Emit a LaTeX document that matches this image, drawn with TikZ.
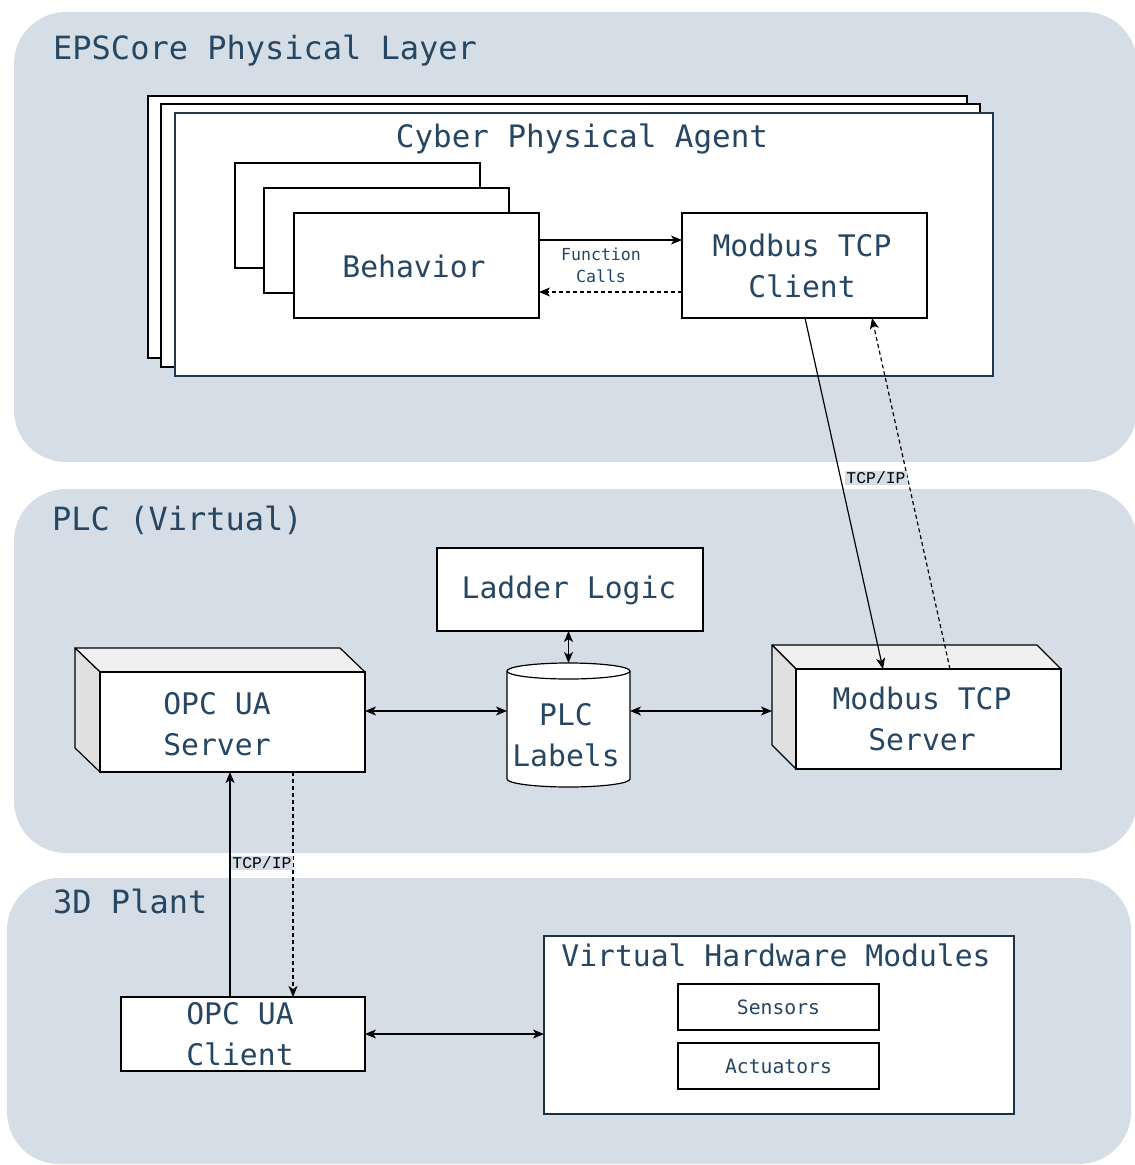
\documentclass[tikz,border=0pt]{standalone}
\usepackage{fontspec}
\setmonofont{DejaVu Sans Mono}
\newfontfamily\netfont{Liberation Mono}
\usetikzlibrary{arrows.meta}
\definecolor{panelfill}{RGB}{213,222,230}
\definecolor{ink}{RGB}{38,70,98}
\definecolor{topface}{RGB}{240,240,240}
\definecolor{sideface}{RGB}{224,224,224}
\newcommand{\fs}[2]{\fontsize{#1}{#2}\selectfont}
\tikzset{
  panel/.style={fill=panelfill, rounded corners=52},
  box/.style={draw=black, fill=white, line width=1.2pt, inner sep=0pt, outer sep=0pt,
    anchor=north west, align=center, text=ink, font=\ttfamily\fs{29.7}{41}},
  ghost/.style={inner sep=0pt, outer sep=0pt, anchor=north west},
  face/.style={draw=black, line width=1.2pt, line join=round},
  label/.style={anchor=center, text=ink, font=\ttfamily\fs{29.7}{41}, align=center, inner sep=0pt},
  title/.style={anchor=base west, text=ink, font=\ttfamily\fs{32}{40}, inner sep=0pt},
  small/.style={text=ink, font=\ttfamily\fs{16.6}{22}, align=center, inner sep=0pt},
  netlabel/.style={text=black, font=\netfont\fs{16.4}{20}, inner sep=1pt},
  tip/.style={},
  conn/.style={line width=1.2pt, -{Stealth[length=11pt,width=9pt,inset=3pt]}},
  biconn/.style={line width=1.2pt, {Stealth[length=11pt,width=9pt,inset=3pt]}-{Stealth[length=11pt,width=9pt,inset=3pt]}},
  dconn/.style={conn, dash pattern=on 4pt off 3pt}
}
\begin{document}
\begin{tikzpicture}[x=1pt,y=-1pt]
\useasboundingbox (0,0) rectangle (1135,1165);
\begin{scope}
\clip (0,0) rectangle (1135,1165);
% layer panels
\fill[panel] (14,12) rectangle (1137,462);
\fill[panel] (14,489) rectangle (1137,853);
\fill[panel] (7,878) rectangle (1131,1164);
\end{scope}
\node[title] (t1) at (53,59) {EPSCore Physical Layer};
\node[title] (t2) at (52,530) {PLC (Virtual)};
\node[title] (t3) at (53,913) {3D Plant};

% stacked cyber physical agents
\node[box, minimum width=819, minimum height=262] (cpa3) at (148,96) {};
\node[box, minimum width=819, minimum height=263] (cpa2) at (161,104) {};
\node[box, draw=ink!80!black, minimum width=818, minimum height=263] (cpa) at (175,113) {};
\node[anchor=base, text=ink, font=\ttfamily\fs{30.9}{40}, inner sep=0pt] (cpat) at (582,147) {Cyber Physical Agent};

% stacked behaviors
\node[box, minimum width=245, minimum height=105] (beh3) at (235,163) {};
\node[box, minimum width=245, minimum height=105] (beh2) at (264,188) {};
\node[box, minimum width=245, minimum height=105] (beh) at (294,213) {};
\node[label] (beht) at (414,266) {Behavior};
\node[box, minimum width=245, minimum height=105] (mbc) at (682,213) {};
\node[label] (mbct) at (802,266) {Modbus TCP\\Client};

\draw[conn] (beh.east |- 0,240) -- (mbc.west |- 0,240);
\draw[dconn] (mbc.west |- 0,292) -- (beh.east |- 0,292);
\node[small] (fc) at (601,265) {Function\\Calls};

% PLC
\node[box, minimum width=266, minimum height=83] (ladder) at (437,548) {};
\node[label] (laddert) at (569,590) {Ladder Logic};

% PLC labels cylinder
\node[ghost, minimum width=123, minimum height=124] (cyl) at (507,663) {};
\draw[face, fill=white] (630,671) arc[start angle=360, end angle=180, x radius=61.5, y radius=8]
  -- (507,779) arc[start angle=180, end angle=0, x radius=61.5, y radius=8] -- cycle;
\draw[face] (507,671) arc[start angle=180, end angle=0, x radius=61.5, y radius=8];
\node[label] (cylt) at (566,735) {PLC\\Labels};

% OPC UA server block
\draw[face, fill=topface] (75,648) -- (340,648) -- (365,672) -- (100,672) -- cycle;
\draw[face, fill=sideface] (75,648) -- (100,672) -- (100,772) -- (75,748) -- cycle;
\node[box, minimum width=265, minimum height=100] (osrv) at (100,672) {};
\node[label] (osrvt) at (217,724) {OPC UA\\Server};

% Modbus TCP server block
\coordinate (msb) at (772,711);
\draw[face, fill=topface] (772,645) -- (1037,645) -- (1061,669) -- (796,669) -- cycle;
\draw[face, fill=sideface] (772,645) -- (796,669) -- (796,769) -- (772,745) -- cycle;
\node[box, minimum width=265, minimum height=100] (msrv) at (796,669) {};
\node[label] (msrvt) at (922,719) {Modbus TCP\\Server};

\draw[biconn] (ladder.south -| cyl.north) -- (cyl.north);
\draw[biconn] (osrv.east |- 0,711) -- (cyl.west |- 0,711);
\draw[biconn] (cyl.east |- 0,711) -- (msb);

% network links to the Modbus server
\draw[conn] (mbc.south -| 805,0) -- (msrv.north -| 883,0);
\draw[dconn] (msrv.north -| 950,0) -- (mbc.south -| 872,0);
\node[netlabel, fill=panelfill] (tcp1) at (876,478) {TCP/IP};

% 3D plant
\node[box, minimum width=244, minimum height=74] (ocl) at (121,997) {};
\node[label] (oclt) at (240,1034) {OPC UA\\Client};
\node[box, draw=ink!70!black, minimum width=470, minimum height=178] (vhm) at (544,936) {};
\node[anchor=base, text=ink, font=\ttfamily\fs{29.7}{41}, inner sep=0pt] (vhmt) at (776,966) {Virtual Hardware Modules};
\node[box, minimum width=201, minimum height=46, font=\ttfamily\fs{19.7}{24}] (sens) at (678,984) {Sensors};
\node[box, minimum width=201, minimum height=46, font=\ttfamily\fs{19.7}{24}] (act) at (678,1043) {Actuators};

\draw[conn] (ocl.north -| 230,0) -- (osrv.south -| 230,0);
\draw[dconn] (osrv.south -| 293,0) -- (ocl.north -| 293,0);
\node[netlabel, fill=panelfill] (tcp2) at (262,863) {TCP/IP};
\draw[biconn] (ocl.east |- 0,1034) -- (vhm.west |- 0,1034);
\end{tikzpicture}
\end{document}
